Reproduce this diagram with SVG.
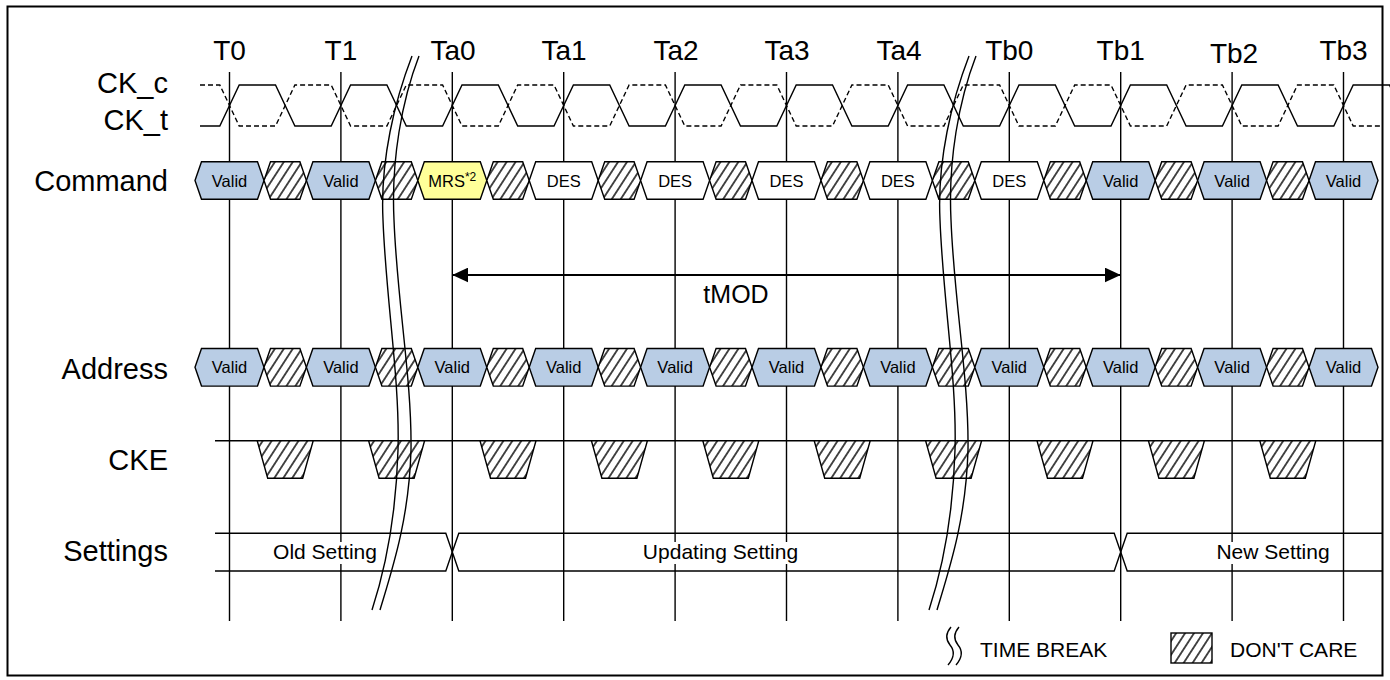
<svg xmlns="http://www.w3.org/2000/svg" xmlns:xlink="http://www.w3.org/1999/xlink" width="1390" height="680" viewBox="0 0 1390 680">
<style>
text{font-family:"Liberation Sans",Arial,sans-serif;fill:#000}
.lbl{font-size:29px;text-anchor:end}
.tl{font-size:28px;text-anchor:middle}
.ct{font-size:16.5px;text-anchor:middle}
.st{font-size:21px;text-anchor:middle}
.lg{font-size:21px}
.ln{stroke:#000;stroke-width:1.4;fill:none}
.valid{fill:#B9CDE5;stroke:#000;stroke-width:1.4}
.des{fill:#fff;stroke:#000;stroke-width:1.4}
.mrs{fill:#FFFF99;stroke:#000;stroke-width:1.4}
.dc{fill:url(#hatch);stroke:#000;stroke-width:1.4}
.wb{fill:#fff}
</style>
<defs>
<pattern id="hatch" patternUnits="userSpaceOnUse" width="7.5" height="8" patternTransform="rotate(33)">
<rect width="7.5" height="8" fill="#fff"/>
<line x1="3.75" y1="-1" x2="3.75" y2="9" stroke="#000" stroke-width="1.4"/>
</pattern>
<path id="hv" d="M-34.5,0 L-28,-18.8 H28 L34.5,0 L28,18.8 H-28 Z"/>
<path id="hh" d="M-21.2,0 L-14.7,-18.8 H14.7 L21.2,0 L14.7,18.8 H-14.7 Z"/>
<path id="tz" d="M-28,0 H28 L17.5,37.6 H-17.5 Z"/>
<marker id="arr" viewBox="0 0 16 15" refX="16" refY="7.5" markerWidth="16" markerHeight="15" markerUnits="userSpaceOnUse" orient="auto-start-reverse">
<path d="M0,0 L16,7.5 L0,15 Z" fill="#000"/>
</marker>
</defs>
<rect x="7.5" y="6.5" width="1375" height="669" fill="#fff" stroke="#000" stroke-width="2"/>

<g id="grid" class="ln">
<line x1="229.5" y1="72" x2="229.5" y2="621"/>
<line x1="340.9" y1="72" x2="340.9" y2="621"/>
<line x1="452.3" y1="72" x2="452.3" y2="621"/>
<line x1="563.7" y1="72" x2="563.7" y2="621"/>
<line x1="675.1" y1="72" x2="675.1" y2="621"/>
<line x1="786.5" y1="72" x2="786.5" y2="621"/>
<line x1="897.9" y1="72" x2="897.9" y2="621"/>
<line x1="1009.3" y1="72" x2="1009.3" y2="621"/>
<line x1="1120.7" y1="72" x2="1120.7" y2="621"/>
<line x1="1232.1" y1="72" x2="1232.1" y2="621"/>
<line x1="1343.5" y1="72" x2="1343.5" y2="621"/>
</g>

<g id="time-labels">
<text class="tl" x="229.5" y="60">T0</text>
<text class="tl" x="340.9" y="60">T1</text>
<text class="tl" x="453" y="60">Ta0</text>
<text class="tl" x="564" y="60">Ta1</text>
<text class="tl" x="676" y="60">Ta2</text>
<text class="tl" x="787" y="60">Ta3</text>
<text class="tl" x="899" y="60">Ta4</text>
<text class="tl" x="1009.3" y="60">Tb0</text>
<text class="tl" x="1120.7" y="60">Tb1</text>
<text class="tl" x="1234" y="63">Tb2</text>
<text class="tl" x="1343.5" y="60">Tb3</text>
</g>

<g id="signal-labels">
<text class="lbl" x="168" y="93">CK_c</text>
<text class="lbl" x="168" y="130">CK_t</text>
<text class="lbl" x="168" y="191">Command</text>
<text class="lbl" x="168" y="379">Address</text>
<text class="lbl" x="168" y="470">CKE</text>
<text class="lbl" x="168" y="561">Settings</text>
</g>

<g id="clock">
<path class="ln" d="M200,126 H219.8 l19.4,-41 h36.3 l19.4,41 h36.3 l19.4,-41 h36.3 l19.4,41 h36.3 l19.4,-41 h36.3 l19.4,41 h36.3 l19.4,-41 h36.3 l19.4,41 h36.3 l19.4,-41 h36.3 l19.4,41 h36.3 l19.4,-41 h36.3 l19.4,41 h36.3 l19.4,-41 h36.3 l19.4,41 h36.3 l19.4,-41 h36.3 l19.4,41 h36.3 l19.4,-41 h36.3 l19.4,41 h36.3 l19.4,-41 h36.3 l19.4,41 h36.3 l19.4,-41 h36.3 l19.4,41 h36.3 l19.4,-41 H1383"/>
<path class="ln" stroke-dasharray="5,3" d="M200,85 H219.8 l19.4,41 h36.3 l19.4,-41 h36.3 l19.4,41 h36.3 l19.4,-41 h36.3 l19.4,41 h36.3 l19.4,-41 h36.3 l19.4,41 h36.3 l19.4,-41 h36.3 l19.4,41 h36.3 l19.4,-41 h36.3 l19.4,41 h36.3 l19.4,-41 h36.3 l19.4,41 h36.3 l19.4,-41 h36.3 l19.4,41 h36.3 l19.4,-41 h36.3 l19.4,41 h36.3 l19.4,-41 h36.3 l19.4,41 h36.3 l19.4,-41 h36.3 l19.4,41 H1383"/>
</g>

<g id="command">
<g id="cmd-t0"><use href="#hv" x="229.5" y="180.5" class="valid"/><text class="ct" x="229.5" y="186.5">Valid</text></g>
<g id="cmd-x0"><use href="#hh" x="285.2" y="180.5" class="dc"/></g>
<g id="cmd-t1"><use href="#hv" x="340.9" y="180.5" class="valid"/><text class="ct" x="340.9" y="186.5">Valid</text></g>
<g id="cmd-x1"><use href="#hh" x="396.6" y="180.5" class="dc"/></g>
<g id="cmd-ta0"><use href="#hv" x="452.3" y="180.5" class="mrs"/><text class="ct" x="452.3" y="186.5">MRS<tspan font-size="12" dy="-6">*2</tspan></text></g>
<g id="cmd-x2"><use href="#hh" x="508" y="180.5" class="dc"/></g>
<g id="cmd-ta1"><use href="#hv" x="563.7" y="180.5" class="des"/><text class="ct" x="563.7" y="186.5">DES</text></g>
<g id="cmd-x3"><use href="#hh" x="619.4" y="180.5" class="dc"/></g>
<g id="cmd-ta2"><use href="#hv" x="675.1" y="180.5" class="des"/><text class="ct" x="675.1" y="186.5">DES</text></g>
<g id="cmd-x4"><use href="#hh" x="730.8" y="180.5" class="dc"/></g>
<g id="cmd-ta3"><use href="#hv" x="786.5" y="180.5" class="des"/><text class="ct" x="786.5" y="186.5">DES</text></g>
<g id="cmd-x5"><use href="#hh" x="842.2" y="180.5" class="dc"/></g>
<g id="cmd-ta4"><use href="#hv" x="897.9" y="180.5" class="des"/><text class="ct" x="897.9" y="186.5">DES</text></g>
<g id="cmd-x6"><use href="#hh" x="953.6" y="180.5" class="dc"/></g>
<g id="cmd-tb0"><use href="#hv" x="1009.3" y="180.5" class="des"/><text class="ct" x="1009.3" y="186.5">DES</text></g>
<g id="cmd-x7"><use href="#hh" x="1065" y="180.5" class="dc"/></g>
<g id="cmd-tb1"><use href="#hv" x="1120.7" y="180.5" class="valid"/><text class="ct" x="1120.7" y="186.5">Valid</text></g>
<g id="cmd-x8"><use href="#hh" x="1176.4" y="180.5" class="dc"/></g>
<g id="cmd-tb2"><use href="#hv" x="1232.1" y="180.5" class="valid"/><text class="ct" x="1232.1" y="186.5">Valid</text></g>
<g id="cmd-x9"><use href="#hh" x="1287.8" y="180.5" class="dc"/></g>
<g id="cmd-tb3"><use href="#hv" x="1343.5" y="180.5" class="valid"/><text class="ct" x="1343.5" y="186.5">Valid</text></g>
</g>

<g id="address">
<g id="adr-t0"><use href="#hv" x="229.5" y="367.3" class="valid"/><text class="ct" x="229.5" y="373.3">Valid</text></g>
<g id="adr-x0"><use href="#hh" x="285.2" y="367.3" class="dc"/></g>
<g id="adr-t1"><use href="#hv" x="340.9" y="367.3" class="valid"/><text class="ct" x="340.9" y="373.3">Valid</text></g>
<g id="adr-x1"><use href="#hh" x="396.6" y="367.3" class="dc"/></g>
<g id="adr-ta0"><use href="#hv" x="452.3" y="367.3" class="valid"/><text class="ct" x="452.3" y="373.3">Valid</text></g>
<g id="adr-x2"><use href="#hh" x="508" y="367.3" class="dc"/></g>
<g id="adr-ta1"><use href="#hv" x="563.7" y="367.3" class="valid"/><text class="ct" x="563.7" y="373.3">Valid</text></g>
<g id="adr-x3"><use href="#hh" x="619.4" y="367.3" class="dc"/></g>
<g id="adr-ta2"><use href="#hv" x="675.1" y="367.3" class="valid"/><text class="ct" x="675.1" y="373.3">Valid</text></g>
<g id="adr-x4"><use href="#hh" x="730.8" y="367.3" class="dc"/></g>
<g id="adr-ta3"><use href="#hv" x="786.5" y="367.3" class="valid"/><text class="ct" x="786.5" y="373.3">Valid</text></g>
<g id="adr-x5"><use href="#hh" x="842.2" y="367.3" class="dc"/></g>
<g id="adr-ta4"><use href="#hv" x="897.9" y="367.3" class="valid"/><text class="ct" x="897.9" y="373.3">Valid</text></g>
<g id="adr-x6"><use href="#hh" x="953.6" y="367.3" class="dc"/></g>
<g id="adr-tb0"><use href="#hv" x="1009.3" y="367.3" class="valid"/><text class="ct" x="1009.3" y="373.3">Valid</text></g>
<g id="adr-x7"><use href="#hh" x="1065" y="367.3" class="dc"/></g>
<g id="adr-tb1"><use href="#hv" x="1120.7" y="367.3" class="valid"/><text class="ct" x="1120.7" y="373.3">Valid</text></g>
<g id="adr-x8"><use href="#hh" x="1176.4" y="367.3" class="dc"/></g>
<g id="adr-tb2"><use href="#hv" x="1232.1" y="367.3" class="valid"/><text class="ct" x="1232.1" y="373.3">Valid</text></g>
<g id="adr-x9"><use href="#hh" x="1287.8" y="367.3" class="dc"/></g>
<g id="adr-tb3"><use href="#hv" x="1343.5" y="367.3" class="valid"/><text class="ct" x="1343.5" y="373.3">Valid</text></g>
</g>

<g id="cke">
<line class="ln" x1="215" y1="440.7" x2="1383" y2="440.7"/>
<use href="#tz" x="285.2" y="440.7" class="dc"/>
<use href="#tz" x="396.6" y="440.7" class="dc"/>
<use href="#tz" x="508" y="440.7" class="dc"/>
<use href="#tz" x="619.4" y="440.7" class="dc"/>
<use href="#tz" x="730.8" y="440.7" class="dc"/>
<use href="#tz" x="842.2" y="440.7" class="dc"/>
<use href="#tz" x="953.6" y="440.7" class="dc"/>
<use href="#tz" x="1065" y="440.7" class="dc"/>
<use href="#tz" x="1176.4" y="440.7" class="dc"/>
<use href="#tz" x="1287.8" y="440.7" class="dc"/>
</g>

<g id="settings">
<g id="set-old">
<path class="ln" d="M215,533.3 H445.8 L452.3,552 L445.8,571 H215"/>
<rect class="wb" x="272" y="542" width="106" height="22"/>
<text class="st" x="325" y="559">Old Setting</text>
</g>
<g id="set-upd">
<path class="ln" d="M452.3,552 L458.8,533.3 H1114.2 L1120.7,552 L1114.2,571 H458.8 Z"/>
<rect class="wb" x="640" y="542" width="161" height="22"/>
<text class="st" x="720.5" y="559">Updating Setting</text>
</g>
<g id="set-new">
<path class="ln" d="M1383,533.3 H1127.2 L1120.7,552 L1127.2,571 H1383"/>
<rect class="wb" x="1215" y="542" width="117" height="22"/>
<text class="st" x="1273" y="559">New Setting</text>
</g>
</g>

<g id="connectors">
<line x1="452.3" y1="275" x2="1120.7" y2="275" stroke="#000" stroke-width="2.2" marker-start="url(#arr)" marker-end="url(#arr)"/>
<text x="736" y="303" font-size="25" text-anchor="middle">tMOD</text>
</g>

<g id="break1" class="ln">
<path d="M412,56 C395,100 380,160 383,220 C386,300 400,380 398,450 C396,520 385,570 372,610"/>
<path d="M419,56 C402,100 391,160 394,220 C397,300 412,380 411,450 C409,520 392,570 380,610"/>
</g>
<g id="break2" class="ln" transform="translate(557,0)">
<path d="M412,56 C395,100 380,160 383,220 C386,300 400,380 398,450 C396,520 385,570 372,610"/>
<path d="M419,56 C402,100 391,160 394,220 C397,300 412,380 411,450 C409,520 392,570 380,610"/>
</g>

<g id="legend">
<g id="legend-break" class="ln">
<path d="M951,627 C945,634 946,640 950,645 C955,651 954,658 948,665"/>
<path d="M959,627 C953,634 954,640 958,645 C963,651 962,658 956,665"/>
</g>
<text class="lg" x="980" y="657">TIME BREAK</text>
<rect class="dc" x="1171" y="633" width="41" height="30"/>
<text class="lg" x="1230" y="657">DON'T CARE</text>
</g>
</svg>
